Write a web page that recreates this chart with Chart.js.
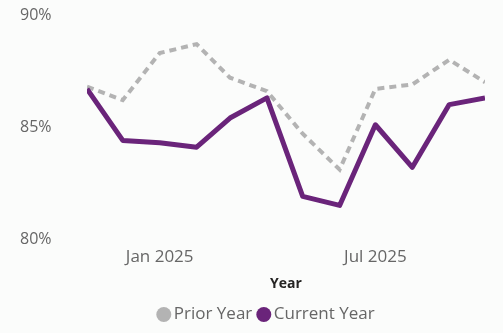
<!DOCTYPE html>
<html>
<head>
<meta charset="utf-8">
<script src="https://cdn.jsdelivr.net/npm/chart.js@4/dist/chart.umd.min.js"></script>
<style>
  html, body { margin: 0; padding: 0; background: #fbfcfb; }
  #wrap { width: 503px; height: 333px; }
</style>
</head>
<body>
<div id="wrap"><canvas id="myChart" width="503" height="333"></canvas></div>
<script>
// monthly data, first of each month
const months = ['2024-11-01', '2024-12-01', '2025-01-01', '2025-02-01', '2025-03-01', '2025-04-01',
                '2025-05-01', '2025-06-01', '2025-07-01', '2025-08-01', '2025-09-01', '2025-10-01'];
const priorYear = [86.8, 86.2, 88.3, 88.7, 87.2, 86.6, 84.7, 83.1, 86.7, 86.9, 88.0, 87.0];
const currentYear = [86.7, 84.4, 84.3, 84.1, 85.4, 86.3, 81.9, 81.5, 85.1, 83.2, 86.0, 86.3];
const tickDates = ['2025-01-01', '2025-07-01'];
const tickLabels = ['Jan 2025', 'Jul 2025'];

// days since first month, so the x axis is spaced like a real date axis
const DAY = 86400000;
const start = Date.parse(months[0]);
const dayOf = d => Math.round((Date.parse(d) - start) / DAY);

const toPoints = vals => vals.map((v, i) => ({ x: dayOf(months[i]), y: v }));

// nudge the legend so it sits where the original has it
const legendShift = {
    id: 'legendShift',
    afterLayout(chart) {
        chart.legend.left += 16;
        chart.legend.right += 16;
    }
};

const font = "'Open Sans', 'Noto Sans', sans-serif";

const ctx = document.getElementById('myChart');
const myChart = new Chart(ctx, {
    type: 'line',
    data: {
        datasets: [{
            label: 'Prior Year',
            data: toPoints(priorYear),
            borderColor: '#b3b3b3',
            backgroundColor: '#b3b3b3',
            borderWidth: 4,
            borderDash: [7, 5],
            pointRadius: 0,
            tension: 0,
            order: 1
        }, {
            label: 'Current Year',
            data: toPoints(currentYear),
            borderColor: '#6a247a',
            backgroundColor: '#6a247a',
            borderWidth: 5,
            borderJoinStyle: 'round',
            pointRadius: 0,
            tension: 0,
            order: 0
        }]
    },
    options: {
        responsive: false,
        animation: false,
        layout: { padding: { left: 20, right: 18, top: 15, bottom: 0 } },
        plugins: {
            tooltip: { enabled: false },
            legend: {
                position: 'bottom',
                labels: {
                    usePointStyle: true,
                    pointStyle: 'circle',
                    boxWidth: 3,
                    boxHeight: 10.6,
                    padding: 10,
                    color: '#666',
                    font: { family: font, size: 17 },
                    sort: (a, b) => a.datasetIndex - b.datasetIndex,
                    generateLabels: chart =>
                        Chart.defaults.plugins.legend.labels.generateLabels(chart).map(item => {
                            item.lineWidth = 0;
                            item.lineDash = [];
                            return item;
                        })
                }
            }
        },
        scales: {
            x: {
                type: 'linear',
                min: dayOf(months[0]),
                max: dayOf(months[months.length - 1]),
                grid: { display: false, drawTicks: false },
                border: { display: false },
                afterBuildTicks: scale => {
                    scale.ticks = tickDates.map(d => ({ value: dayOf(d) }));
                },
                ticks: {
                    padding: 10,
                    maxRotation: 0,
                    color: '#666',
                    font: { family: font, size: 17, lineHeight: 1 },
                    callback: value => {
                        const i = tickDates.findIndex(d => dayOf(d) === value);
                        return i >= 0 ? tickLabels[i] : '';
                    }
                },
                title: {
                    display: true,
                    text: 'Year',
                    color: '#252423',
                    padding: { top: 1, bottom: 5 },
                    font: { family: font, size: 14, weight: 'bold', lineHeight: 1 }
                }
            },
            y: {
                min: 80,
                max: 90,
                grid: { display: false, drawTicks: false },
                border: { display: false },
                afterFit: scale => { scale.width = 67; },
                ticks: {
                    stepSize: 5,
                    padding: 0,
                    crossAlign: 'far',
                    color: '#666',
                    font: { family: font, size: 16 },
                    callback: value => value + '%'
                }
            }
        }
    },
    plugins: [legendShift]
});
</script>
</body>
</html>
